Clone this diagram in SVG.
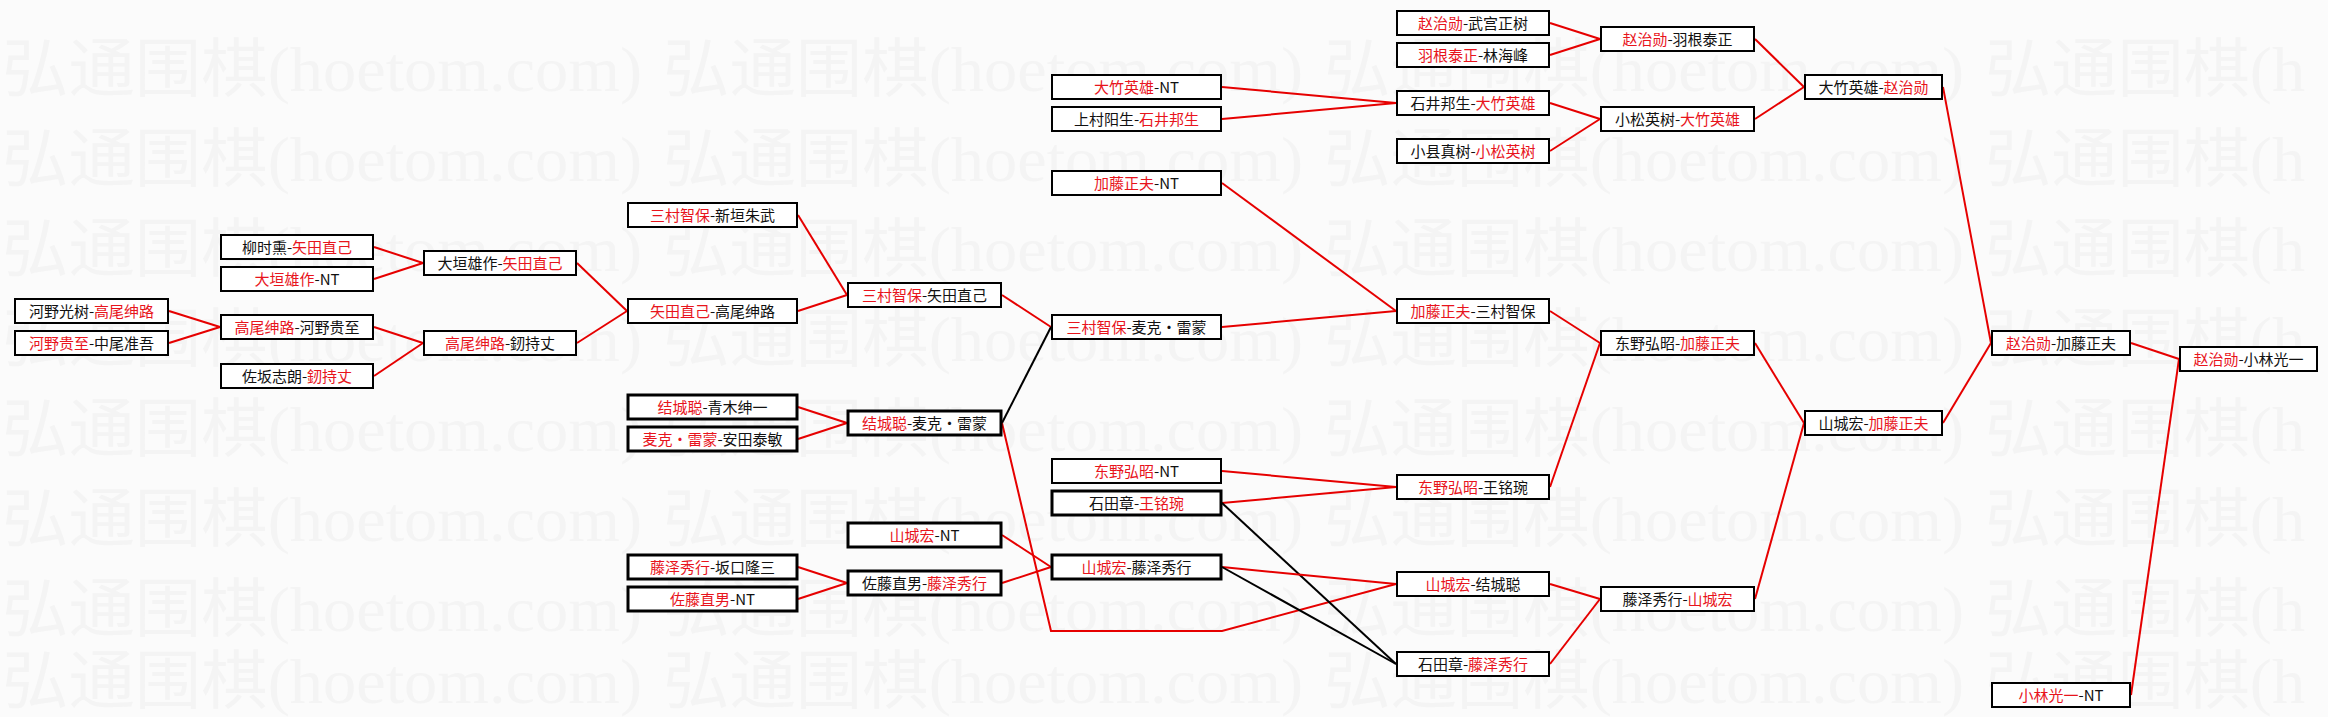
<svg xmlns="http://www.w3.org/2000/svg" width="2328" height="717" viewBox="0 0 2328 717">
<style>
.bg{fill:#fbfbfb}
.wm{font-family:"Liberation Serif","Noto Sans CJK SC",serif;font-size:64px;fill:#f4f4f4}
.box{fill:#fff;stroke:#000;stroke-width:2}
.bd{stroke-width:3}
.t{font-family:"Noto Sans CJK SC","Noto Sans CJK JP",sans-serif;font-size:15px;fill:#111;text-anchor:middle}
.r{fill:#e8141c}
.lr{stroke:#e60000;stroke-width:2;fill:none}
.lk{stroke:#000;stroke-width:2;fill:none}
</style>
<rect class="bg" x="0" y="0" width="2328" height="717"/>
<g id="watermark">
<text class="wm" x="2" y="91" textLength="640" lengthAdjust="spacingAndGlyphs">弘通围棋(hoetom.com)</text>
<text class="wm" x="663" y="91" textLength="640" lengthAdjust="spacingAndGlyphs">弘通围棋(hoetom.com)</text>
<text class="wm" x="1324" y="91" textLength="640" lengthAdjust="spacingAndGlyphs">弘通围棋(hoetom.com)</text>
<text class="wm" x="1985" y="91" textLength="320" lengthAdjust="spacingAndGlyphs">弘通围棋(h</text>
<text class="wm" x="2" y="181" textLength="640" lengthAdjust="spacingAndGlyphs">弘通围棋(hoetom.com)</text>
<text class="wm" x="663" y="181" textLength="640" lengthAdjust="spacingAndGlyphs">弘通围棋(hoetom.com)</text>
<text class="wm" x="1324" y="181" textLength="640" lengthAdjust="spacingAndGlyphs">弘通围棋(hoetom.com)</text>
<text class="wm" x="1985" y="181" textLength="320" lengthAdjust="spacingAndGlyphs">弘通围棋(h</text>
<text class="wm" x="2" y="271" textLength="640" lengthAdjust="spacingAndGlyphs">弘通围棋(hoetom.com)</text>
<text class="wm" x="663" y="271" textLength="640" lengthAdjust="spacingAndGlyphs">弘通围棋(hoetom.com)</text>
<text class="wm" x="1324" y="271" textLength="640" lengthAdjust="spacingAndGlyphs">弘通围棋(hoetom.com)</text>
<text class="wm" x="1985" y="271" textLength="320" lengthAdjust="spacingAndGlyphs">弘通围棋(h</text>
<text class="wm" x="2" y="361" textLength="640" lengthAdjust="spacingAndGlyphs">弘通围棋(hoetom.com)</text>
<text class="wm" x="663" y="361" textLength="640" lengthAdjust="spacingAndGlyphs">弘通围棋(hoetom.com)</text>
<text class="wm" x="1324" y="361" textLength="640" lengthAdjust="spacingAndGlyphs">弘通围棋(hoetom.com)</text>
<text class="wm" x="1985" y="361" textLength="320" lengthAdjust="spacingAndGlyphs">弘通围棋(h</text>
<text class="wm" x="2" y="451" textLength="640" lengthAdjust="spacingAndGlyphs">弘通围棋(hoetom.com)</text>
<text class="wm" x="663" y="451" textLength="640" lengthAdjust="spacingAndGlyphs">弘通围棋(hoetom.com)</text>
<text class="wm" x="1324" y="451" textLength="640" lengthAdjust="spacingAndGlyphs">弘通围棋(hoetom.com)</text>
<text class="wm" x="1985" y="451" textLength="320" lengthAdjust="spacingAndGlyphs">弘通围棋(h</text>
<text class="wm" x="2" y="541" textLength="640" lengthAdjust="spacingAndGlyphs">弘通围棋(hoetom.com)</text>
<text class="wm" x="663" y="541" textLength="640" lengthAdjust="spacingAndGlyphs">弘通围棋(hoetom.com)</text>
<text class="wm" x="1324" y="541" textLength="640" lengthAdjust="spacingAndGlyphs">弘通围棋(hoetom.com)</text>
<text class="wm" x="1985" y="541" textLength="320" lengthAdjust="spacingAndGlyphs">弘通围棋(h</text>
<text class="wm" x="2" y="631" textLength="640" lengthAdjust="spacingAndGlyphs">弘通围棋(hoetom.com)</text>
<text class="wm" x="663" y="631" textLength="640" lengthAdjust="spacingAndGlyphs">弘通围棋(hoetom.com)</text>
<text class="wm" x="1324" y="631" textLength="640" lengthAdjust="spacingAndGlyphs">弘通围棋(hoetom.com)</text>
<text class="wm" x="1985" y="631" textLength="320" lengthAdjust="spacingAndGlyphs">弘通围棋(h</text>
<text class="wm" x="2" y="703" textLength="640" lengthAdjust="spacingAndGlyphs">弘通围棋(hoetom.com)</text>
<text class="wm" x="663" y="703" textLength="640" lengthAdjust="spacingAndGlyphs">弘通围棋(hoetom.com)</text>
<text class="wm" x="1324" y="703" textLength="640" lengthAdjust="spacingAndGlyphs">弘通围棋(hoetom.com)</text>
<text class="wm" x="1985" y="703" textLength="320" lengthAdjust="spacingAndGlyphs">弘通围棋(h</text>
</g>
<g id="connectors">
<line class="lr" x1="169" y1="311" x2="220" y2="327"/>
<line class="lr" x1="169" y1="343" x2="220" y2="327"/>
<line class="lr" x1="374" y1="247" x2="423" y2="263"/>
<line class="lr" x1="374" y1="279" x2="423" y2="263"/>
<line class="lr" x1="374" y1="327" x2="423" y2="343"/>
<line class="lr" x1="374" y1="376" x2="423" y2="343"/>
<line class="lr" x1="577" y1="263" x2="627" y2="311"/>
<line class="lr" x1="577" y1="343" x2="627" y2="311"/>
<line class="lr" x1="798" y1="215" x2="847" y2="295"/>
<line class="lr" x1="798" y1="311" x2="847" y2="295"/>
<line class="lr" x1="798" y1="407" x2="847" y2="423"/>
<line class="lr" x1="798" y1="439" x2="847" y2="423"/>
<line class="lr" x1="798" y1="567" x2="847" y2="583"/>
<line class="lr" x1="798" y1="599" x2="847" y2="583"/>
<line class="lr" x1="1002" y1="295" x2="1051" y2="327"/>
<line class="lk" x1="1002" y1="423" x2="1051" y2="327"/>
<polyline class="lr" points="1002,423 1051,631 1222,631 1396,584"/>
<line class="lr" x1="1002" y1="535" x2="1051" y2="567"/>
<line class="lr" x1="1002" y1="583" x2="1051" y2="567"/>
<line class="lr" x1="1222" y1="327" x2="1396" y2="311"/>
<line class="lr" x1="1222" y1="183" x2="1396" y2="311"/>
<line class="lr" x1="1222" y1="87" x2="1396" y2="103"/>
<line class="lr" x1="1222" y1="119" x2="1396" y2="103"/>
<line class="lr" x1="1222" y1="471" x2="1396" y2="487"/>
<line class="lr" x1="1222" y1="503" x2="1396" y2="487"/>
<line class="lk" x1="1222" y1="503" x2="1396" y2="664"/>
<line class="lr" x1="1222" y1="567" x2="1396" y2="584"/>
<line class="lk" x1="1222" y1="567" x2="1396" y2="664"/>
<line class="lr" x1="1550" y1="23" x2="1600" y2="39"/>
<line class="lr" x1="1550" y1="55" x2="1600" y2="39"/>
<line class="lr" x1="1550" y1="103" x2="1600" y2="119"/>
<line class="lr" x1="1550" y1="151" x2="1600" y2="119"/>
<line class="lr" x1="1550" y1="311" x2="1600" y2="343"/>
<line class="lr" x1="1550" y1="487" x2="1600" y2="343"/>
<line class="lr" x1="1550" y1="584" x2="1600" y2="599"/>
<line class="lr" x1="1550" y1="664" x2="1600" y2="599"/>
<line class="lr" x1="1755" y1="39" x2="1804" y2="87"/>
<line class="lr" x1="1755" y1="119" x2="1804" y2="87"/>
<line class="lr" x1="1755" y1="343" x2="1804" y2="423"/>
<line class="lr" x1="1755" y1="599" x2="1804" y2="423"/>
<line class="lr" x1="1943" y1="87" x2="1991" y2="343"/>
<line class="lr" x1="1943" y1="423" x2="1991" y2="343"/>
<line class="lr" x1="2131" y1="343" x2="2179" y2="359"/>
<line class="lr" x1="2131" y1="695" x2="2179" y2="359"/>
</g>
<g id="n_c1_1"><rect class="box" x="15" y="299" width="153" height="24"/><text class="t" x="91.5" y="316.5">河野光树-<tspan class="r">高尾绅路</tspan></text></g>
<g id="n_c1_2"><rect class="box" x="15" y="331" width="153" height="24"/><text class="t" x="91.5" y="348.5"><tspan class="r">河野贵至</tspan>-中尾准吾</text></g>
<g id="n_c2_1"><rect class="box" x="221" y="235" width="152" height="24"/><text class="t" x="297" y="252.5">柳时熏-<tspan class="r">矢田直己</tspan></text></g>
<g id="n_c2_2"><rect class="box" x="221" y="267" width="152" height="24"/><text class="t" x="297" y="284.5"><tspan class="r">大垣雄作</tspan>-NT</text></g>
<g id="n_c2_3"><rect class="box" x="221" y="315" width="152" height="24"/><text class="t" x="297" y="332.5"><tspan class="r">高尾绅路</tspan>-河野贵至</text></g>
<g id="n_c2_4"><rect class="box" x="221" y="364" width="152" height="24"/><text class="t" x="297" y="381.5">佐坂志朗-<tspan class="r">釰持丈</tspan></text></g>
<g id="n_c3_1"><rect class="box" x="424" y="251" width="152" height="24"/><text class="t" x="500" y="268.5">大垣雄作-<tspan class="r">矢田直己</tspan></text></g>
<g id="n_c3_2"><rect class="box" x="424" y="331" width="152" height="24"/><text class="t" x="500" y="348.5"><tspan class="r">高尾绅路</tspan>-釰持丈</text></g>
<g id="n_c4_1"><rect class="box" x="628" y="203" width="169" height="24"/><text class="t" x="712.5" y="220.5"><tspan class="r">三村智保</tspan>-新垣朱武</text></g>
<g id="n_c4_2"><rect class="box" x="628" y="299" width="169" height="24"/><text class="t" x="712.5" y="316.5"><tspan class="r">矢田直己</tspan>-高尾绅路</text></g>
<g id="n_c4_3"><rect class="box bd" x="628" y="395" width="169" height="24"/><text class="t" x="712.5" y="412.5"><tspan class="r">结城聪</tspan>-青木绅一</text></g>
<g id="n_c4_4"><rect class="box bd" x="628" y="427" width="169" height="24"/><text class="t" x="712.5" y="444.5"><tspan class="r">麦克・雷蒙</tspan>-安田泰敏</text></g>
<g id="n_c4_5"><rect class="box bd" x="628" y="555" width="169" height="24"/><text class="t" x="712.5" y="572.5"><tspan class="r">藤泽秀行</tspan>-坂口隆三</text></g>
<g id="n_c4_6"><rect class="box bd" x="628" y="587" width="169" height="24"/><text class="t" x="712.5" y="604.5"><tspan class="r">佐藤直男</tspan>-NT</text></g>
<g id="n_c5_1"><rect class="box" x="848" y="283" width="153" height="24"/><text class="t" x="924.5" y="300.5"><tspan class="r">三村智保</tspan>-矢田直己</text></g>
<g id="n_c5_2"><rect class="box bd" x="848" y="411" width="153" height="24"/><text class="t" x="924.5" y="428.5"><tspan class="r">结城聪</tspan>-麦克・雷蒙</text></g>
<g id="n_c5_3"><rect class="box bd" x="848" y="523" width="153" height="24"/><text class="t" x="924.5" y="540.5"><tspan class="r">山城宏</tspan>-NT</text></g>
<g id="n_c5_4"><rect class="box bd" x="848" y="571" width="153" height="24"/><text class="t" x="924.5" y="588.5">佐藤直男-<tspan class="r">藤泽秀行</tspan></text></g>
<g id="n_c6_1"><rect class="box" x="1052" y="75" width="169" height="24"/><text class="t" x="1136.5" y="92.5"><tspan class="r">大竹英雄</tspan>-NT</text></g>
<g id="n_c6_2"><rect class="box" x="1052" y="107" width="169" height="24"/><text class="t" x="1136.5" y="124.5">上村阳生-<tspan class="r">石井邦生</tspan></text></g>
<g id="n_c6_3"><rect class="box" x="1052" y="171" width="169" height="24"/><text class="t" x="1136.5" y="188.5"><tspan class="r">加藤正夫</tspan>-NT</text></g>
<g id="n_c6_4"><rect class="box" x="1052" y="315" width="169" height="24"/><text class="t" x="1136.5" y="332.5"><tspan class="r">三村智保</tspan>-麦克・雷蒙</text></g>
<g id="n_c6_5"><rect class="box" x="1052" y="459" width="169" height="24"/><text class="t" x="1136.5" y="476.5"><tspan class="r">东野弘昭</tspan>-NT</text></g>
<g id="n_c6_6"><rect class="box bd" x="1052" y="491" width="169" height="24"/><text class="t" x="1136.5" y="508.5">石田章-<tspan class="r">王铭琬</tspan></text></g>
<g id="n_c6_7"><rect class="box bd" x="1052" y="555" width="169" height="24"/><text class="t" x="1136.5" y="572.5"><tspan class="r">山城宏</tspan>-藤泽秀行</text></g>
<g id="n_c7_1"><rect class="box" x="1397" y="11" width="152" height="24"/><text class="t" x="1473" y="28.5"><tspan class="r">赵治勋</tspan>-武宫正树</text></g>
<g id="n_c7_2"><rect class="box" x="1397" y="43" width="152" height="24"/><text class="t" x="1473" y="60.5"><tspan class="r">羽根泰正</tspan>-林海峰</text></g>
<g id="n_c7_3"><rect class="box" x="1397" y="91" width="152" height="24"/><text class="t" x="1473" y="108.5">石井邦生-<tspan class="r">大竹英雄</tspan></text></g>
<g id="n_c7_4"><rect class="box" x="1397" y="139" width="152" height="24"/><text class="t" x="1473" y="156.5">小县真树-<tspan class="r">小松英树</tspan></text></g>
<g id="n_c7_5"><rect class="box" x="1397" y="299" width="152" height="24"/><text class="t" x="1473" y="316.5"><tspan class="r">加藤正夫</tspan>-三村智保</text></g>
<g id="n_c7_6"><rect class="box" x="1397" y="475" width="152" height="24"/><text class="t" x="1473" y="492.5"><tspan class="r">东野弘昭</tspan>-王铭琬</text></g>
<g id="n_c7_7"><rect class="box" x="1397" y="572" width="152" height="24"/><text class="t" x="1473" y="589.5"><tspan class="r">山城宏</tspan>-结城聪</text></g>
<g id="n_c7_8"><rect class="box" x="1397" y="652" width="152" height="24"/><text class="t" x="1473" y="669.5">石田章-<tspan class="r">藤泽秀行</tspan></text></g>
<g id="n_c8_1"><rect class="box" x="1601" y="27" width="153" height="24"/><text class="t" x="1677.5" y="44.5"><tspan class="r">赵治勋</tspan>-羽根泰正</text></g>
<g id="n_c8_2"><rect class="box" x="1601" y="107" width="153" height="24"/><text class="t" x="1677.5" y="124.5">小松英树-<tspan class="r">大竹英雄</tspan></text></g>
<g id="n_c8_3"><rect class="box" x="1601" y="331" width="153" height="24"/><text class="t" x="1677.5" y="348.5">东野弘昭-<tspan class="r">加藤正夫</tspan></text></g>
<g id="n_c8_4"><rect class="box" x="1601" y="587" width="153" height="24"/><text class="t" x="1677.5" y="604.5">藤泽秀行-<tspan class="r">山城宏</tspan></text></g>
<g id="n_c9_1"><rect class="box" x="1805" y="75" width="137" height="24"/><text class="t" x="1873.5" y="92.5">大竹英雄-<tspan class="r">赵治勋</tspan></text></g>
<g id="n_c9_2"><rect class="box" x="1805" y="411" width="137" height="24"/><text class="t" x="1873.5" y="428.5">山城宏-<tspan class="r">加藤正夫</tspan></text></g>
<g id="n_c10_1"><rect class="box" x="1992" y="331" width="138" height="24"/><text class="t" x="2061" y="348.5"><tspan class="r">赵治勋</tspan>-加藤正夫</text></g>
<g id="n_c10_2"><rect class="box" x="1992" y="683" width="138" height="24"/><text class="t" x="2061" y="700.5"><tspan class="r">小林光一</tspan>-NT</text></g>
<g id="n_c11_1"><rect class="box" x="2180" y="347" width="137" height="24"/><text class="t" x="2248.5" y="364.5"><tspan class="r">赵治勋</tspan>-小林光一</text></g>
</svg>
